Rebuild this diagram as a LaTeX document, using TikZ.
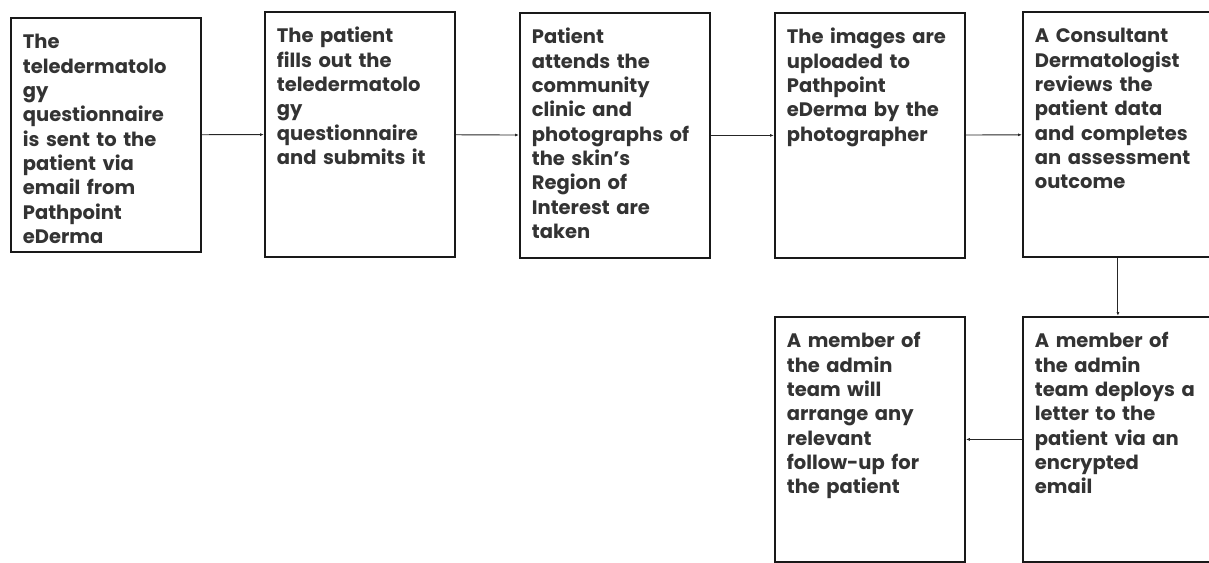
\documentclass[tikz,border=0pt]{standalone}
\usepackage{fontspec}
\setmainfont{Poppins}
\usetikzlibrary{arrows.meta}

\begin{document}
\begin{tikzpicture}[x=1pt, y=1pt,
  every node/.style={font=\fontsize{19.5}{24.3}\selectfont\bfseries, text=black!80},
  stage/.style={draw=black!90, line width=1.8pt, anchor=north west, align=left,
    inner xsep=12pt, inner ysep=4pt, text width=166pt, text height=27pt, text depth=210pt},
  flow/.style={-{Latex[length=4pt,width=3pt]}, line width=0.9pt, black!85}]
  \useasboundingbox (0,0) rectangle (1209,-562);
  \clip (0,0) rectangle (1209,-562);
  % top row
  \node[stage, text depth=199pt] (sent) at (10,-17) {The\\teledermatolo\\gy\\questionnaire\\is sent to the\\patient via\\email from\\Pathpoint\\eDerma};
  \node[stage] (fill) at (264,-11) {The patient\\fills out the\\teledermatolo\\gy\\questionnaire\\and submits it};
  \node[stage] (clinic) at (519,-12) {Patient\\attends the\\community\\clinic and\\photographs of\\the skin’s\\Region of\\Interest are\\taken};
  \node[stage] (upload) at (774,-12) {The images are\\uploaded to\\Pathpoint\\eDerma by the\\photographer};
  \node[stage] (review) at (1022,-11) {A Consultant\\Dermatologist\\reviews the\\patient data\\and completes\\an assessment\\outcome};
  % bottom row
  \node[stage] (letter) at (1022,-316) {A member of\\the admin\\team deploys a\\letter to the\\patient via an\\encrypted\\email};
  \node[stage] (follow) at (774,-316) {A member of\\the admin\\team will\\arrange any\\relevant\\follow-up for\\the patient};
  % arrows
  \draw[flow] (sent) -- (fill);
  \draw[flow] (fill) -- (clinic);
  \draw[flow] (clinic) -- (upload);
  \draw[flow] (upload) -- (review);
  \draw[flow] (review) -- (letter);
  \draw[flow] (letter) -- (follow);
\end{tikzpicture}
\end{document}
